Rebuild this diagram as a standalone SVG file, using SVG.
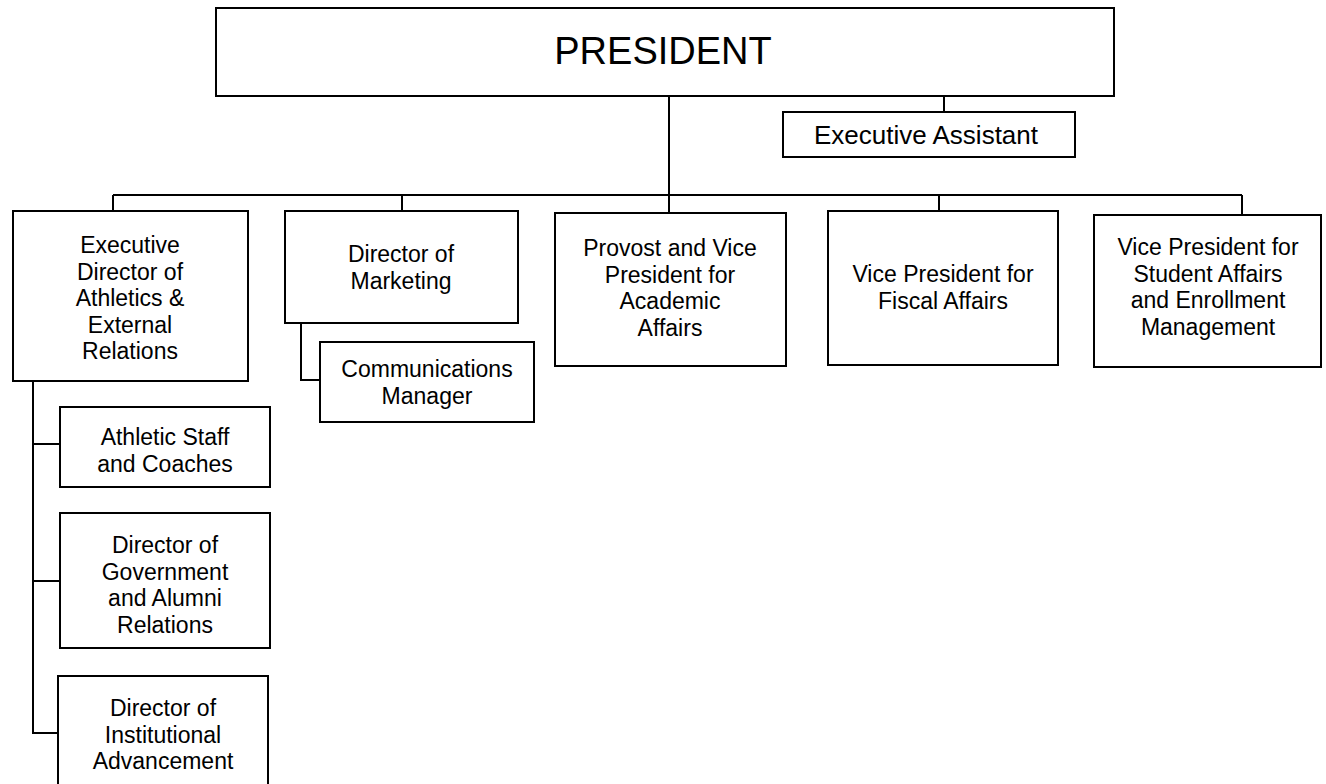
<svg xmlns="http://www.w3.org/2000/svg" width="1326" height="784" viewBox="0 0 1326 784">
<style>
.box{fill:#fff;stroke:#000;stroke-width:2}
.ln{fill:none;stroke:#000;stroke-width:2}
text{font-family:"Liberation Sans",Arial,sans-serif;font-size:23px;fill:#000;text-anchor:middle}
.big{font-size:38px}
.ea{font-size:26px}
</style>
<rect width="1326" height="784" fill="#fff"/>
<g id="connectors">
<path class="ln" d="M669 96V195M944 96V112M113 195H1242M113 195V211M402 195V211M669 195V213M939 195V211M1242 195V215"/>
<path class="ln" d="M301 323V380H320"/>
<path class="ln" d="M33 381V733H58M33 444H60M33 581H60"/>
</g>
<g id="president"><rect class="box" x="216" y="8" width="898" height="88"/><text class="big" x="663" y="64">PRESIDENT</text></g>
<g id="exec-assistant"><rect class="box" x="783" y="112" width="292" height="45"/><text class="ea" x="926" y="144">Executive Assistant</text></g>
<g id="exec-director"><rect class="box" x="13" y="211" width="235" height="170"/>
<text><tspan x="130" y="253">Executive</tspan><tspan x="130" y="279.6">Director of</tspan><tspan x="130" y="306.2">Athletics &amp;</tspan><tspan x="130" y="332.8">External</tspan><tspan x="130" y="359.4">Relations</tspan></text></g>
<g id="dir-marketing"><rect class="box" x="285" y="211" width="233" height="112"/>
<text><tspan x="401" y="262">Director of</tspan><tspan x="401" y="289">Marketing</tspan></text></g>
<g id="comm-manager"><rect class="box" x="320" y="342" width="214" height="80"/>
<text><tspan x="427" y="377">Communications</tspan><tspan x="427" y="403.6">Manager</tspan></text></g>
<g id="provost"><rect class="box" x="555" y="213" width="231" height="153"/>
<text><tspan x="670" y="256">Provost and Vice</tspan><tspan x="670" y="282.6">President for</tspan><tspan x="670" y="309.2">Academic</tspan><tspan x="670" y="335.8">Affairs</tspan></text></g>
<g id="vp-fiscal"><rect class="box" x="828" y="211" width="230" height="154"/>
<text><tspan x="943" y="282">Vice President for</tspan><tspan x="943" y="308.6">Fiscal Affairs</tspan></text></g>
<g id="vp-student"><rect class="box" x="1094" y="215" width="227" height="152"/>
<text><tspan x="1208" y="255">Vice President for</tspan><tspan x="1208" y="281.6">Student Affairs</tspan><tspan x="1208" y="308.2">and Enrollment</tspan><tspan x="1208" y="334.8">Management</tspan></text></g>
<g id="athletic-staff"><rect class="box" x="60" y="407" width="210" height="80"/>
<text><tspan x="165" y="445">Athletic Staff</tspan><tspan x="165" y="471.6">and Coaches</tspan></text></g>
<g id="dir-government"><rect class="box" x="60" y="513" width="210" height="135"/>
<text><tspan x="165" y="553">Director of</tspan><tspan x="165" y="579.6">Government</tspan><tspan x="165" y="606.2">and Alumni</tspan><tspan x="165" y="632.8">Relations</tspan></text></g>
<g id="dir-institutional"><rect class="box" x="58" y="676" width="210" height="120"/>
<text><tspan x="163" y="716">Director of</tspan><tspan x="163" y="742.6">Institutional</tspan><tspan x="163" y="769.2">Advancement</tspan></text></g>
</svg>
